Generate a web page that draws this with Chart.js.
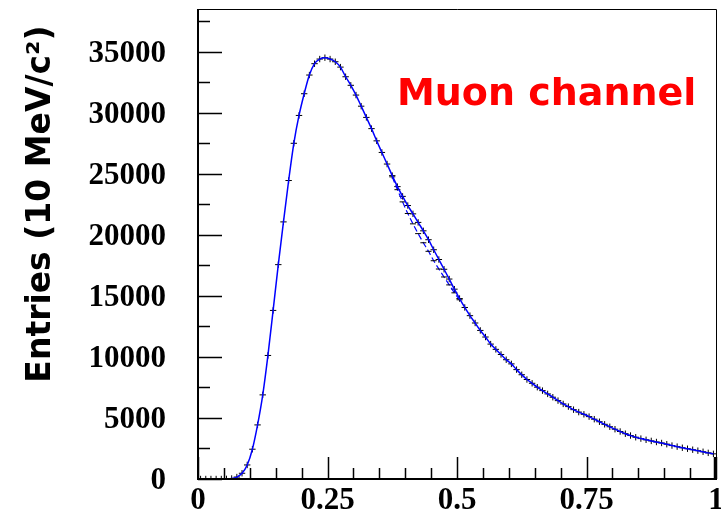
<!DOCTYPE html>
<html>
<head>
<meta charset="utf-8">
<script src="https://cdn.jsdelivr.net/npm/chart.js@4.4.1/dist/chart.umd.min.js"></script>
<style>
  html, body { margin: 0; padding: 0; background: #fff; }
</style>
</head>
<body>
<canvas id="massChart" width="721" height="514"></canvas>
<script>
// bin centres, 10 MeV bins from 0 to 1
const binCenters = [
  0.005, 0.015, 0.025, 0.035, 0.045, 0.055, 0.065, 0.075, 0.085, 0.095,
  0.105, 0.115, 0.125, 0.135, 0.145, 0.155, 0.165, 0.175, 0.185, 0.195,
  0.205, 0.215, 0.225, 0.235, 0.245, 0.255, 0.265, 0.275, 0.285, 0.295,
  0.305, 0.315, 0.325, 0.335, 0.345, 0.355, 0.365, 0.375, 0.385, 0.395,
  0.405, 0.415, 0.425, 0.435, 0.445, 0.455, 0.465, 0.475, 0.485, 0.495,
  0.505, 0.515, 0.525, 0.535, 0.545, 0.555, 0.565, 0.575, 0.585, 0.595,
  0.605, 0.615, 0.625, 0.635, 0.645, 0.655, 0.665, 0.675, 0.685, 0.695,
  0.705, 0.715, 0.725, 0.735, 0.745, 0.755, 0.765, 0.775, 0.785, 0.795,
  0.805, 0.815, 0.825, 0.835, 0.845, 0.855, 0.865, 0.875, 0.885, 0.895,
  0.905, 0.915, 0.925, 0.935, 0.945, 0.955, 0.965, 0.975, 0.985, 0.995
];

// entries per bin
const entries = [
  0, 0, 0, 0, 0, 10, 40, 160, 470, 1150,
  2440, 4430, 6890, 10120, 13810, 17560, 21060, 24450, 27500, 29780,
  31560, 33090, 34020, 34400, 34510, 34400, 34180, 33740, 32950, 32250,
  31450, 30540, 29620, 28700, 27700, 26750, 25800, 24850, 23950, 23150,
  22400, 21720, 21020, 20330, 19600, 18780, 17980, 17180, 16380, 15550,
  14780, 14050, 13380, 12780, 12170, 11630, 11050, 10620, 10200, 9770,
  9430, 8960, 8540, 8150, 7840, 7520, 7240, 6970, 6700, 6420,
  6150, 5930, 5680, 5480, 5300, 5110, 4900, 4690, 4480, 4280,
  4080, 3890, 3710, 3560, 3420, 3310, 3210, 3120, 3030, 2950,
  2850, 2740, 2650, 2560, 2480, 2400, 2320, 2230, 2140, 2060
];

// second sample, only where it splits from the main one
const altCenters = [0.375, 0.385, 0.395, 0.405, 0.415, 0.425, 0.435, 0.445, 0.455, 0.465, 0.475, 0.485, 0.495, 0.505];
const altEntries = [24750, 23700, 22700, 21750, 20900, 20100, 19350, 18650, 17880, 17200, 16550, 15900, 15250, 14680];

const yTickLabels = [0, 5000, 10000, 15000, 20000, 25000, 30000, 35000];
const yMinorTicks = [2500, 7500, 12500, 17500, 22500, 27500, 32500, 37500];
const xTickLabels = [0, 0.25, 0.5, 0.75, 1];
const xMinorTicks = [0.05, 0.1, 0.15, 0.2, 0.3, 0.35, 0.4, 0.45, 0.55, 0.6, 0.65, 0.7, 0.8, 0.85, 0.9, 0.95];

const yTitle = 'Entries (10 MeV/c\u00B2)';
const channelText = 'Muon channel';

const pts = (xs, ys) => xs.map((x, i) => ({ x: x, y: ys[i] }));

// frame, inward ticks and labels in the style of a ROOT canvas
const frameAxes = {
  id: 'frameAxes',
  afterDraw(chart) {
    const ctx = chart.ctx;
    const a = chart.chartArea;
    const xs = chart.scales.x;
    const ys = chart.scales.y;
    ctx.save();
    ctx.strokeStyle = '#000';

    ctx.lineWidth = 1;
    ctx.beginPath();
    ctx.moveTo(a.left, a.top + 0.5);
    ctx.lineTo(a.right + 0.5, a.top + 0.5);
    ctx.lineTo(a.right + 0.5, a.bottom);
    ctx.stroke();

    ctx.lineWidth = 2;
    ctx.beginPath();
    ctx.moveTo(a.left, a.top);
    ctx.lineTo(a.left, a.bottom);
    ctx.lineTo(a.right + 1, a.bottom);
    ctx.stroke();

    ctx.lineWidth = 1.5;
    ctx.beginPath();
    yTickLabels.forEach(v => {
      const py = Math.round(ys.getPixelForValue(v)) + 0.5;
      ctx.moveTo(a.left, py); ctx.lineTo(a.left + 24, py);
    });
    yMinorTicks.forEach(v => {
      const py = Math.round(ys.getPixelForValue(v)) + 0.5;
      ctx.moveTo(a.left, py); ctx.lineTo(a.left + 12, py);
    });
    xTickLabels.forEach(v => {
      const px = Math.round(xs.getPixelForValue(v)) + 0.5;
      ctx.moveTo(px, a.bottom); ctx.lineTo(px, a.bottom - 22);
    });
    xMinorTicks.forEach(v => {
      const px = Math.round(xs.getPixelForValue(v)) + 0.5;
      ctx.moveTo(px, a.bottom); ctx.lineTo(px, a.bottom - 11);
    });
    ctx.stroke();

    // the end tick at x = 1 is drawn heavier
    ctx.lineWidth = 2.5;
    ctx.beginPath();
    ctx.moveTo(a.right - 1, a.bottom);
    ctx.lineTo(a.right - 1, a.bottom - 22);
    ctx.stroke();

    ctx.fillStyle = '#000';
    ctx.font = 'bold 31px "Liberation Serif"';
    ctx.textAlign = 'right';
    ctx.textBaseline = 'middle';
    yTickLabels.forEach(v => {
      ctx.fillText(String(v), a.left - 32, ys.getPixelForValue(v) + 2);
    });
    ctx.textAlign = 'center';
    ctx.textBaseline = 'top';
    xTickLabels.forEach(v => {
      ctx.fillText(String(v), xs.getPixelForValue(v), a.bottom + 6);
    });

    ctx.save();
    ctx.translate(41, 204);
    ctx.rotate(-Math.PI / 2);
    ctx.font = 'bold 33px "DejaVu Sans"';
    ctx.textAlign = 'center';
    ctx.textBaseline = 'middle';
    ctx.fillText(yTitle, 0, 0);
    ctx.restore();

    ctx.fillStyle = '#ff0000';
    ctx.font = 'bold 38px "DejaVu Sans"';
    ctx.textAlign = 'left';
    ctx.textBaseline = 'alphabetic';
    ctx.fillText(channelText, 397, 105);
    ctx.restore();
  }
};

new Chart(document.getElementById('massChart'), {
  type: 'line',
  data: {
    datasets: [
      {
        label: 'fit',
        data: pts(binCenters, entries),
        borderColor: '#0000ff',
        borderWidth: 1.5,
        pointRadius: 0,
        cubicInterpolationMode: 'monotone',
        order: 0
      },
      {
        label: 'second sample',
        data: pts(altCenters, altEntries),
        borderColor: '#0000ff',
        borderWidth: 1.2,
        borderDash: [6, 3],
        pointStyle: 'line',
        pointRadius: 3,
        pointBorderColor: '#000',
        pointBorderWidth: 1,
        cubicInterpolationMode: 'monotone',
        order: 1
      },
      {
        label: 'data',
        data: pts(binCenters, entries),
        showLine: false,
        pointStyle: 'cross',
        pointRadius: 3.2,
        pointBorderColor: '#000',
        pointBorderWidth: 1,
        order: 2
      }
    ]
  },
  options: {
    responsive: false,
    animation: false,
    devicePixelRatio: 1,
    layout: { padding: { left: 198, right: 3, top: 9, bottom: 35 } },
    plugins: {
      legend: { display: false },
      tooltip: { enabled: false }
    },
    scales: {
      x: { type: 'linear', min: 0, max: 1, display: false },
      y: { min: 0, max: 38500, display: false }
    }
  },
  plugins: [frameAxes]
});
</script>
</body>
</html>
